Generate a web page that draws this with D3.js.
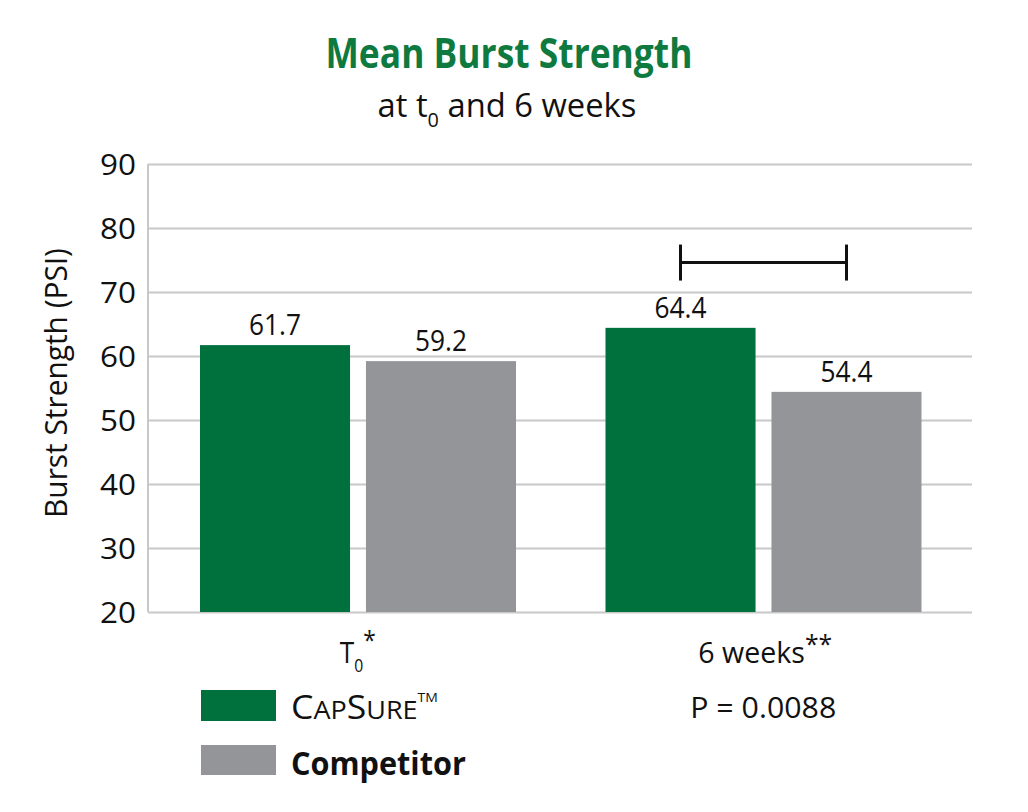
<!DOCTYPE html>
<html><head><meta charset="utf-8">
<script src="https://cdn.jsdelivr.net/npm/d3@7"></script>
<style>
body{margin:0;background:#fff;}
text{font-family:"Open Sans","Noto Sans",sans-serif;}
</style></head>
<body><svg id="c" width="1028" height="812"></svg>
<script>
const categories = ["T0", "6 weeks"];
const series = ["CapSure", "Competitor"];
const capsure = [61.7, 64.4];
const competitor = [59.2, 54.4];
const yTicks = [20, 30, 40, 50, 60, 70, 80, 90];
const colors = ["#00703c", "#939598"];

const svg = d3.select("#c");
const m = {l:148, r:972, t:164, b:612};
const y = d3.scaleLinear().domain([20, 90]).range([m.b, m.t]);
const x0 = d3.scaleBand().domain(categories).range([155, 966]).padding(0);
const x1 = d3.scaleBand().domain(series).range([45, 361]).paddingInner(0.096);

// squeeze a text horizontally to a target width around its anchor
function fit(sel, w, ax) {
  const n = sel.node();
  const cur = n.getComputedTextLength ? n.getBBox().width : w;
  const s = w / cur;
  sel.attr("transform", `translate(${ax},0) scale(${s},1) translate(${-ax},0)`);
}

// gridlines
const yAxis = d3.axisLeft(y).tickValues(yTicks).tickSize(-(m.r - m.l)).tickPadding(12);
const ga = svg.append("g").attr("transform", `translate(${m.l},0)`).call(yAxis);
ga.select(".domain").remove();
ga.selectAll(".tick line").attr("stroke", "#c8c8c8").attr("stroke-width", 2);
ga.selectAll(".tick text").attr("font-size", 30).attr("fill", "#111").attr("dy", "0.36em")
  .attr("font-family", "'Open Sans',sans-serif")
  .each(function(){ fit(d3.select(this), 36, -12); });
svg.append("line").attr("x1", m.l).attr("x2", m.l).attr("y1", m.t).attr("y2", m.b)
  .attr("stroke", "#c8c8c8").attr("stroke-width", 2);

const rows = categories.map((c, i) => ({cat: c, vals: [capsure[i], competitor[i]]}));
const g = svg.selectAll("g.grp").data(rows).enter().append("g")
  .attr("transform", d => `translate(${x0(d.cat)},0)`);
g.selectAll("rect").data(d => d.vals.map((v, j) => ({s: series[j], v, j}))).enter().append("rect")
  .attr("x", d => x1(d.s)).attr("width", x1.bandwidth())
  .attr("y", d => y(d.v)).attr("height", d => y(20) - y(d.v))
  .attr("fill", d => colors[d.j]);
g.selectAll("text.lbl").data(d => d.vals.map((v, j) => ({s: series[j], v, j}))).enter().append("text")
  .attr("x", d => x1(d.s) + x1.bandwidth() / 2).attr("y", d => y(d.v) - 10)
  .attr("text-anchor", "middle").attr("font-size", 30).attr("fill", "#111")
  .text(d => d.v.toFixed(1))
  .each(function(d){ fit(d3.select(this), 52, x1(d.s) + x1.bandwidth() / 2); });

// significance bracket
const bx1 = x0(categories[1]) + x1(series[0]) + x1.bandwidth() / 2;
const bx2 = x0(categories[1]) + x1(series[1]) + x1.bandwidth() / 2;
const by = y(74.6);
const br = svg.append("g").attr("stroke", "#111").attr("stroke-width", 3);
br.append("line").attr("x1", bx1).attr("x2", bx2).attr("y1", by).attr("y2", by);
br.append("line").attr("x1", bx1).attr("x2", bx1).attr("y1", by - 18).attr("y2", by + 18);
br.append("line").attr("x1", bx2).attr("x2", bx2).attr("y1", by - 18).attr("y2", by + 18);

// category labels
const cx0 = x0(categories[0]) + x0.bandwidth() / 2;
const cx1 = x0(categories[1]) + x0.bandwidth() / 2;
const t0 = svg.append("text").attr("x", cx0).attr("y", 663).attr("text-anchor", "middle")
  .attr("font-size", 30).attr("fill", "#111");
t0.append("tspan").text("T");
t0.append("tspan").attr("font-size", 18).attr("dy", 9).text("0");
t0.append("tspan").attr("font-size", 26).attr("dy", -23).text("*");
fit(t0, 36, cx0);
const t1 = svg.append("text").attr("x", cx1 + 2).attr("y", 663).attr("text-anchor", "middle")
  .attr("font-size", 30).attr("fill", "#111");
t1.append("tspan").text("6 weeks");
t1.append("tspan").attr("font-size", 26).attr("dy", -10).text("**");
fit(t1, 134, cx1 + 2);
const pv = svg.append("text").attr("x", cx1).attr("y", 718).attr("text-anchor", "middle")
  .attr("font-size", 30).attr("fill", "#111").text("P = 0.0088");
fit(pv, 146, cx1);

// title
const tt = svg.append("text").attr("x", 509).attr("y", 68).attr("text-anchor", "middle")
  .attr("font-size", 42).attr("font-weight", "bold").attr("fill", "#0e7a3f").text("Mean Burst Strength");
fit(tt, 367, 509);
const st = svg.append("text").attr("x", 507).attr("y", 117).attr("text-anchor", "middle")
  .attr("font-size", 33).attr("fill", "#111");
st.append("tspan").text("at t");
st.append("tspan").attr("font-size", 20).attr("dy", 10).text("0");
st.append("tspan").attr("dy", -10).text(" and 6 weeks");
fit(st, 259, 507);

// y label
const yl = svg.append("g").attr("transform", `translate(67,${(m.t + m.b) / 2 - 5}) rotate(-90)`);
const ylt = yl.append("text").attr("x", 0).attr("y", 0)
  .attr("text-anchor", "middle").attr("font-size", 31).attr("fill", "#111").text("Burst Strength (PSI)");
fit(ylt, 270, 0);

// legend
const lg = svg.append("g");
lg.append("rect").attr("x", 201).attr("y", 690).attr("width", 75).attr("height", 31).attr("fill", colors[0]);
lg.append("rect").attr("x", 201).attr("y", 745).attr("width", 75).attr("height", 30).attr("fill", colors[1]);
const l1 = lg.append("text").attr("x", 291).attr("y", 719).attr("font-size", 33).attr("fill", "#111");
l1.append("tspan").text("C");
l1.append("tspan").attr("font-size", 25).text("AP");
l1.append("tspan").text("S");
l1.append("tspan").attr("font-size", 25).text("URE");
l1.append("tspan").attr("font-size", 13).attr("dy", -17).text("TM");
fit(l1, 147, 291);
const l2 = lg.append("text").attr("x", 291).attr("y", 775).attr("font-size", 33).attr("font-weight", "bold")
  .attr("fill", "#111").text("Competitor");
fit(l2, 175, 291);
</script></body></html>
